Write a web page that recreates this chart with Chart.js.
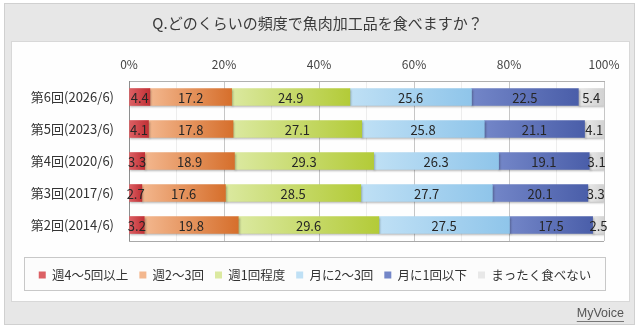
<!DOCTYPE html>
<html>
<head>
<meta charset="utf-8">
<script src="https://cdn.jsdelivr.net/npm/chart.js@4/dist/chart.umd.min.js"></script>
<style>
  html, body { margin: 0; padding: 0; background: #ffffff; }
  #wrap { position: relative; width: 640px; height: 328px; }
  canvas { display: block; }
</style>
</head>
<body>
<div id="wrap"><canvas id="c" width="640" height="328"></canvas></div>
<script>
// ---- data ----
const titleText = 'Q.どのくらいの頻度で魚肉加工品を食べますか？';
const categories = ['第6回(2026/6)', '第5回(2023/6)', '第4回(2020/6)', '第3回(2017/6)', '第2回(2014/6)'];
const seriesLabels = ['週4〜5回以上', '週2〜3回', '週1回程度', '月に2〜3回', '月に1回以下', 'まったく食べない'];
const week4to5 = [4.4, 4.1, 3.3, 2.7, 3.2];
const week2to3 = [17.2, 17.8, 18.9, 17.6, 19.8];
const week1 = [24.9, 27.1, 29.3, 28.5, 29.6];
const month2to3 = [25.6, 25.8, 26.3, 27.7, 27.5];
const month1orLess = [22.5, 21.1, 19.1, 20.1, 17.5];
const never = [5.4, 4.1, 3.1, 3.3, 2.5];
const axisMin = 0, axisMax = 100, minorStep = 10, majorStep = 20;
const sourceText = 'MyVoice';

// ---- styles ----
const FONT = '"Noto Sans CJK JP", "Noto Sans", sans-serif';
const palette = [
  { base: '#cf4346', light: '#dc6064', dark: '#c13035' },
  { base: '#e08d52', light: '#f3b78e', dark: '#d66f2c' },
  { base: '#c4d84c', light: '#dbe9a0', dark: '#b3cb38' },
  { base: '#a9d3ef', light: '#bfe0f5', dark: '#8fc5ea' },
  { base: '#5669b1', light: '#7386c8', dark: '#4a5ea9' },
  { base: '#d9d9d9', light: '#e8e8e8', dark: '#d2d2d2' }
];

function segFill(p) {
  return (ctx) => {
    if (ctx.type !== 'data') return p.base;
    const chart = ctx.chart;
    const xs = chart.scales && chart.scales.x;
    if (!xs || !chart.chartArea) return p.base;
    const di = ctx.datasetIndex, j = ctx.dataIndex;
    let start = 0;
    for (let k = 0; k < di; k++) start += chart.data.datasets[k].data[j];
    const end = start + chart.data.datasets[di].data[j];
    const x0 = xs.getPixelForValue(start), x1 = xs.getPixelForValue(end);
    if (!isFinite(x0) || !isFinite(x1) || x1 <= x0) return p.base;
    const g = chart.ctx.createLinearGradient(x0, 0, x1, 0);
    g.addColorStop(0, p.light);
    g.addColorStop(1, p.dark);
    return g;
  };
}

const seriesData = [week4to5, week2to3, week1, month2to3, month1orLess, never];
const datasets = seriesData.map((d, i) => ({
  label: seriesLabels[i],
  data: d,
  backgroundColor: segFill(palette[i]),
  borderWidth: 0,
  barThickness: 17
}));

// ---- plugins ----
const framePlugin = {
  id: 'frame',
  beforeDraw(chart) {
    const c = chart.ctx;
    c.save();
    c.fillStyle = '#ffffff';
    c.fillRect(0, 0, chart.width, chart.height);
    // outer grey panel
    c.fillStyle = '#e7e7e7';
    c.fillRect(4, 3, 631, 322);
    c.strokeStyle = '#d0d0d0';
    c.lineWidth = 1;
    c.strokeRect(4.5, 3.5, 630, 321);
    // white inner panel
    c.fillStyle = '#fefefe';
    c.fillRect(11, 41, 619, 261);
    c.strokeStyle = '#d8d8d8';
    c.strokeRect(11.5, 41.5, 618, 260);
    // legend box
    c.fillStyle = '#fcfcfc';
    c.fillRect(24, 257, 582, 34);
    c.strokeStyle = '#c8c8c8';
    c.strokeRect(24.5, 257.5, 581, 33);
    c.restore();
  },
  beforeDatasetsDraw(chart) {
    const c = chart.ctx;
    c.save();
    c.shadowColor = 'rgba(0,0,0,0.28)';
    c.shadowBlur = 2;
    c.shadowOffsetX = 1;
    c.shadowOffsetY = 1.5;
  },
  afterDatasetsDraw(chart) {
    const c = chart.ctx;
    c.restore();
    const a = chart.chartArea;
    // plot frame
    c.save();
    c.strokeStyle = '#a8a8a8';
    c.lineWidth = 1;
    c.beginPath();
    c.moveTo(a.left, Math.round(a.bottom) + 0.5);
    c.lineTo(a.right, Math.round(a.bottom) + 0.5);
    c.stroke();
    // value labels
    c.font = '13px ' + FONT;
    c.fillStyle = '#262626';
    c.textAlign = 'center';
    c.textBaseline = 'middle';
    chart.data.datasets.forEach((ds, i) => {
      const meta = chart.getDatasetMeta(i);
      meta.data.forEach((el, j) => {
        const v = ds.data[j];
        const cx = (el.x + el.base) / 2;
        c.fillText(v.toFixed(1), cx, el.y + 1);
      });
    });
    c.restore();
  },
  afterLayout(chart) {
    const t = chart.titleBlock;
    if (t) { t.left = 0; t.right = 635; t.width = 635; }
    const lg = chart.legend;
    if (lg) {
      lg.left = 24; lg.right = 606; lg.width = 582;
      lg.top = 257.75; lg.bottom = lg.top + 30; lg.height = 30;
    }
  },
  afterDraw(chart) {
    const c = chart.ctx;
    c.save();
    c.font = '12.5px "Liberation Sans", Arial, sans-serif';
    c.fillStyle = '#555555';
    c.textAlign = 'right';
    c.textBaseline = 'middle';
    c.fillText(sourceText, 624, 314);
    const w = c.measureText(sourceText).width;
    c.strokeStyle = '#777777';
    c.lineWidth = 1;
    c.beginPath();
    c.moveTo(624 - w, 321.5);
    c.lineTo(624, 321.5);
    c.stroke();
    c.restore();
  }
};

new Chart(document.getElementById('c'), {
  type: 'bar',
  data: { labels: categories, datasets },
  options: {
    indexAxis: 'y',
    responsive: false,
    animation: false,
    layout: { padding: { left: 0, right: 36, top: 0, bottom: 57 } },
    scales: {
      x: {
        type: 'linear',
        position: 'top',
        stacked: true,
        min: axisMin,
        max: axisMax,
        afterFit(scale) { scale.height = 49; },
        ticks: {
          stepSize: minorStep,
          autoSkip: false,
          maxRotation: 0,
          padding: 9,
          color: '#444444',
          font: { family: FONT, size: 12 },
          callback: (v) => (v % majorStep === 0 ? v + '%' : '')
        },
        grid: {
          drawTicks: false,
          color: (ctx) => (ctx.tick && ctx.tick.value % majorStep === 0 ? '#c6c6c6' : '#ededed'),
          lineWidth: 1
        },
        border: { display: true, color: '#b0b0b0' }
      },
      y: {
        type: 'category',
        stacked: true,
        afterFit(scale) { scale.width = 129; },
        ticks: {
          padding: 15,
          color: '#333333',
          font: { family: FONT, size: 13 }
        },
        grid: { display: false, drawTicks: false },
        border: { display: true, color: '#8e8e8e' }
      }
    },
    plugins: {
      title: {
        display: true,
        text: titleText,
        color: '#3a3a3a',
        font: { family: FONT, size: 15, weight: 'normal', lineHeight: 1.2 },
        padding: { top: 14, bottom: 0 }
      },
      legend: {
        display: true,
        position: 'bottom',
        maxHeight: 30,
        labels: {
          boxWidth: 7,
          boxHeight: 7,
          padding: 11,
          color: '#333333',
          font: { family: FONT, size: 12.5 }
        }
      },
      tooltip: { enabled: false }
    }
  },
  plugins: [framePlugin]
});
</script>
</body>
</html>
